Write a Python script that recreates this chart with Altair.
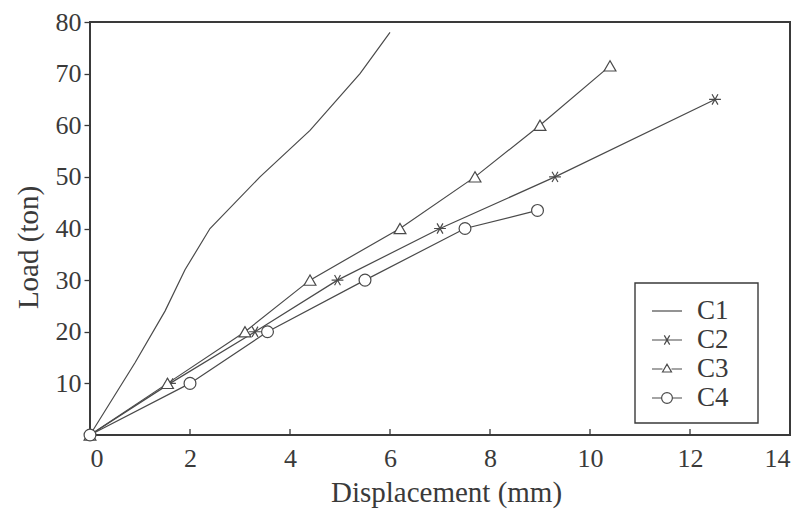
import altair as alt
import pandas as pd

# ---- data ----
c1_x = [0, 0.9, 1.5, 1.9, 2.4, 3.4, 4.4, 5.4, 6.0]
c1_y = [0, 14, 24, 32, 40, 50, 59, 70, 78]
c2_x = [0, 1.6, 3.3, 4.95, 7.0, 9.3, 12.5]
c2_y = [0, 10, 20, 30, 40, 50, 65]
c3_x = [0, 1.55, 3.1, 4.4, 6.2, 7.7, 9.0, 10.4]
c3_y = [0, 10, 20, 30, 40, 50, 60, 71.5]
c4_x = [0, 2.0, 3.55, 5.5, 7.5, 8.95]
c4_y = [0, 10, 20, 30, 40, 43.5]

series_names = ["C1", "C2", "C3", "C4"]
x_ticks = [0, 2, 4, 6, 8, 10, 12, 14]
y_ticks = [10, 20, 30, 40, 50, 60, 70, 80]

rows = []
for name, xs, ys in zip(series_names, [c1_x, c2_x, c3_x, c4_x], [c1_y, c2_y, c3_y, c4_y]):
    for xv, yv in zip(xs, ys):
        rows.append({"series": name, "disp": xv, "load": yv})
df = pd.DataFrame(rows)
ticks_df = pd.DataFrame({"disp": x_ticks[1:-1]})
box_df = pd.DataFrame({"k": [0]})

INK = "#3a3a3a"
LINE = "#4a4a4a"
FONT = "Liberation Serif"

PLOT_H = 413

star = "M-1,0H1M-0.5,-0.87L0.5,0.87M-0.5,0.87L0.5,-0.87"
leg_c1 = "M-1,0H1"
leg_c2 = "M-1,0H1M-0.18,-0.31L0.18,0.31M-0.18,0.31L0.18,-0.31"
leg_c3 = "M-1,0H-0.3M0.3,0H1M-0.3,0.2L0,-0.32L0.3,0.2Z"
leg_c4 = "M-1,0H-0.36M0.36,0H1M-0.36,0A0.36,0.36 0 1,0 0.36,0A0.36,0.36 0 1,0 -0.36,0"

x_scale = alt.Scale(domain=[0, 14], nice=False, zero=False)
y_scale = alt.Scale(domain=[0, 80], nice=False, zero=False)

x_axis = alt.Axis(
    values=x_ticks, title="Displacement (mm)", grid=False, domain=False,
    tickSize=0, labelPadding=10, labelFont=FONT, labelFontSize=26, labelColor=INK,
    titleFont=FONT, titleFontSize=29, titleFontWeight="normal", titleColor=INK,
    titleBaseline="alphabetic", titleX=356, titleY=66,
)
y_axis = alt.Axis(
    values=y_ticks, title="Load (ton)", grid=False, domain=False,
    tickSize=6, tickColor=INK, tickWidth=1.3, labelPadding=3,
    labelFont=FONT, labelFontSize=26, labelColor=INK,
    titleFont=FONT, titleFontSize=29, titleFontWeight="normal", titleColor=INK,
    titleBaseline="alphabetic", titleX=-53, titleY=225,
)

X = alt.X("disp:Q", scale=x_scale, axis=x_axis)
Y = alt.Y("load:Q", scale=y_scale, axis=y_axis)

lines = alt.Chart(df).mark_line(color=LINE, strokeWidth=1.2).encode(
    x=X, y=Y, detail="series:N", order="disp:Q"
)

points = alt.Chart(df).transform_filter(alt.datum.series != "C1").mark_point(
    filled=True, fill="white", stroke=LINE, strokeWidth=1.2, size=140, opacity=1
).encode(
    x=X, y=Y,
    shape=alt.Shape("series:N",
                    scale=alt.Scale(domain=["C2", "C3", "C4"], range=[star, "triangle-up", "circle"]),
                    legend=None),
)

# legend frame (decoration)
legend_box = alt.Chart(box_df).mark_rect(fill="white", stroke=INK, strokeWidth=1.4).encode(
    x=alt.value(545), x2=alt.value(668), y=alt.value(261), y2=alt.value(401)
)

legend_layer = alt.Chart(df).mark_point(opacity=0, color=LINE, strokeWidth=1.2).encode(
    x=X, y=Y,
    shape=alt.Shape("series:N",
                    scale=alt.Scale(domain=series_names, range=[leg_c1, leg_c2, leg_c3, leg_c4]),
                    legend=alt.Legend(
                        title=None, orient="none", legendX=549, legendY=261,
                        symbolSize=900, symbolStrokeColor=LINE, symbolStrokeWidth=1.2,
                        symbolFillColor="white", symbolOpacity=1,
                        labelFont=FONT, labelFontSize=27, labelColor=INK, labelOffset=14,
                        rowPadding=0, padding=12,
                    )),
)

x_ticks_layer = alt.Chart(ticks_df).mark_rule(color=INK, strokeWidth=1.3).encode(
    x=alt.X("disp:Q", scale=x_scale), y=alt.value(PLOT_H), y2=alt.value(PLOT_H - 6)
)

chart = alt.layer(lines, points, legend_box, legend_layer, x_ticks_layer).resolve_scale(
    shape="independent"
).properties(
    width=700, height=PLOT_H,
    autosize=alt.AutoSizeParams(type="none"),
    padding={"left": 82, "top": 14, "right": 4, "bottom": 74},
    background="white",
).configure_view(stroke=INK, strokeWidth=2)

chart.save("out.html", embed_options={"renderer": "svg", "actions": False})
